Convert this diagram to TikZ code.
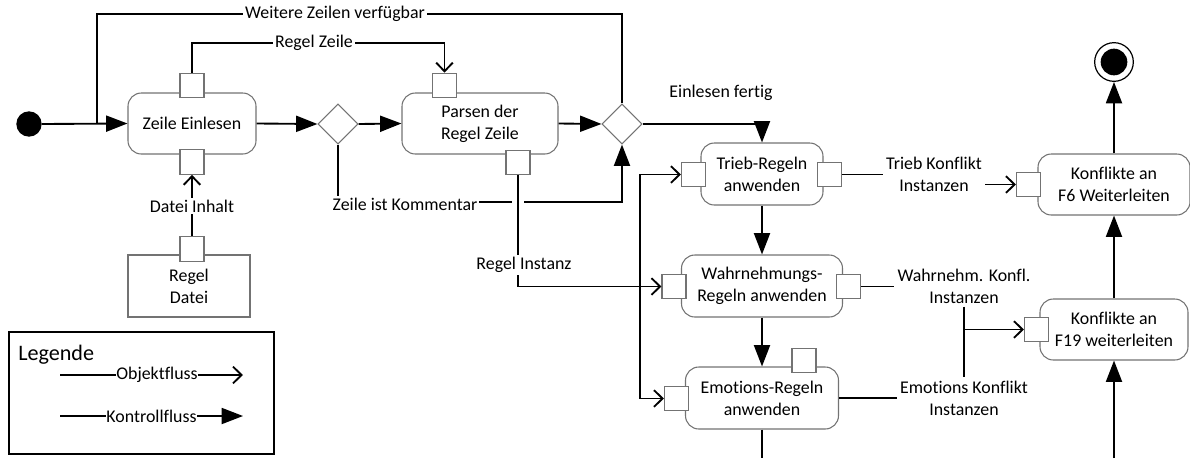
\documentclass[tikz,border=0pt]{standalone}
\usepackage{fontspec}
\setmainfont{Carlito}[Ligatures={NoCommon,NoContextual}]
\usetikzlibrary{arrows.meta,shapes.geometric,calc}
\definecolor{boxgray}{RGB}{115,115,115}
\begin{document}
\begin{tikzpicture}[x=0.75pt,y=-0.75pt,
  every node/.style={font=\fontsize{13.4}{16.3}\selectfont},
  action/.style={rectangle, rounded corners=10pt, draw=boxgray, line width=0.8pt,
    fill=white, align=center, inner sep=0pt},
  objbox/.style={rectangle, draw=boxgray, line width=0.8pt, fill=white,
    align=center, inner sep=0pt},
  pinbox/.style={rectangle, draw=boxgray, line width=0.8pt, fill=white,
    minimum width=18pt, minimum height=18.5pt, inner sep=0pt},
  gate/.style={diamond, draw=boxgray, line width=0.8pt, fill=white,
    minimum width=30pt, minimum height=30pt, inner sep=0pt},
  flow/.style={line width=1.4pt},
  ctl/.style={flow, -{Triangle[length=16pt,width=12pt]}},
  obj/.style={flow, -{Straight Barb[length=6.5pt,width=12.5pt]}},
  lbl/.style={fill=white, inner sep=1.5pt, align=center},
  tlbl/.style={inner sep=2.5pt, align=center}
]
\useasboundingbox (0,0) rectangle (1190,458);

% start and final nodes
\node[circle, fill=black, minimum size=19pt, inner sep=0pt] (start) at (29,124) {};
\node[circle, draw=black, line width=0.9pt, fill=white, minimum size=29pt, inner sep=0pt] (final) at (1114,62) {};
\node[circle, fill=black, minimum size=20pt, inner sep=0pt] (finaldot) at (1114,62) {};

% actions
\node[action, minimum width=96pt, minimum height=45.75pt] (zeile) at (192,123.5) {Zeile Einlesen};
\node[action, minimum width=117pt, minimum height=45.75pt] (parsen) at (480,123.5) {Parsen der\\Regel Zeile};
\node[action, minimum width=91.5pt, minimum height=46.5pt] (trieb) at (762,174) {Trieb-Regeln\\anwenden};
\node[action, minimum width=120.75pt, minimum height=46.5pt] (wahrn) at (762,286) {Wahrnehmungs-\\Regeln anwenden};
\node[action, minimum width=114.75pt, minimum height=46.5pt] (emot) at (762,398) {Emotions-Regeln\\anwenden};
\node[action, minimum width=114pt, minimum height=45.75pt] (fsix) at (1114,184.5) {Konflikte an\\F6 Weiterleiten};
\node[action, minimum width=111pt, minimum height=45.75pt] (fnine) at (1114,329.5) {Konflikte an\\F19 weiterleiten};
\node[objbox, minimum width=91.5pt, minimum height=46.5pt] (datei) at (189,286) {Regel\\Datei};

% decision nodes
\node[gate] (dA) at (338,124) {};
\node[gate] (dB) at (622,124) {};

% pins
\node[pinbox] (zin)  at (192,85.5) {};
\node[pinbox] (zout) at (192,162) {};
\node[pinbox] (pin)  at (444.5,85.5) {};
\node[pinbox] (pout) at (518,162.5) {};
\node[pinbox] (tin)  at (693.5,174.5) {};
\node[pinbox] (tout) at (829.5,174.5) {};
\node[pinbox] (win)  at (674,286.5) {};
\node[pinbox] (wout) at (848.5,286.5) {};
\node[pinbox] (ein)  at (676.5,398.5) {};
\node[pinbox] (etop) at (804,360.5) {};
\node[pinbox] (fsin) at (1028.5,184.5) {};
\node[pinbox] (fnin) at (1036.5,329.5) {};
\node[pinbox] (dout) at (192,249) {};

% helper coordinates
\coordinate (j0) at (97,124);
\coordinate (topy) at (0,14);
\coordinate (rzy) at (0,43);
\coordinate (kc) at (338,202);
\coordinate (fork) at (640,286);
\coordinate (embot) at (762,458);
\coordinate (fnbot) at (1114,458);

% control flow
\draw[ctl] (start.east) -- (zeile.west);
\draw[ctl] (zeile.east) -- (dA.west);
\draw[ctl] (dA.east) -- (parsen.west);
\draw[ctl] (parsen.east) -- (dB.west);
\draw[ctl] (dB.east) -| (trieb.north);
\node[tlbl] at (721,93) {Einlesen fertig};
\draw[flow] (dB.north) -- (dB.north |- topy) -- (j0 |- topy) -- (j0);
\node[lbl] at (335,14) {Weitere Zeilen verfügbar};
\draw[ctl] (dA.south) -- (kc) -| (dB.south);
\node[lbl] at (405,204) {Zeile ist Kommentar};
\draw[ctl] (trieb.south) -- (wahrn.north);
\draw[ctl] (wahrn.south) -- (emot.north);
\draw[flow] (emot.south) -- (embot);
\draw[ctl] (fnbot) -- (fnine.south);
\draw[ctl] (fnine.north) -- (fsix.south);
\draw[ctl] (fsix.north) -- (final.south);

% object flow
\draw[obj] (zin.north) -- (zin.north |- rzy) -- (pin.north |- rzy) -- (pin.north);
\node[lbl] at (314,43) {Regel Zeile};
\draw[obj] (dout.north) -- (zout.south);
\node[lbl] at (192,206) {Datei Inhalt};
% line jump where the rule instances cross the comment branch
\draw[white, line width=3pt] ([xshift=-4.5pt]pout.south |- kc) -- ([xshift=4.5pt]pout.south |- kc);
\draw[obj] (pout.south) |- (win.west);
\node[lbl] at (524,265) {Regel Instanz};
\draw[obj] (fork) |- (tin.west);
\draw[obj] (fork) |- (ein.west);

\node[tlbl] (tlab) at (934,174) {Trieb Konflikt\\Instanzen};
\draw[flow] (tout.east) -- (tout.east -| tlab.west);
\draw[obj] (tlab.east |- fsin.west) -- (fsin.west);

\node[tlbl] (wlab) at (964,286) {Wahrnehm. Konfl.\\Instanzen};
\node[tlbl] (elab) at (964,398) {Emotions Konflikt\\Instanzen};
\draw[flow] (wout.east) -- (wout.east -| wlab.west);
\draw[flow] (emot.east) -- (emot.east -| elab.west);
\draw[flow] (wlab.south) -- (elab.north);
\draw[obj] (wlab.south |- fnin.west) -- (fnin.west);

% legend
\node[draw=black, line width=1.5pt, minimum width=198.75pt, minimum height=91.5pt, inner sep=0pt] (legend) at (141.5,393) {};
\node[anchor=west, inner sep=0pt, font=\fontsize{16.6}{20}\selectfont] (legtitle) at (18,355) {Legende};
\coordinate (oa) at (60,375);
\coordinate (ob) at (243,375);
\coordinate (ka) at (60,416);
\coordinate (kb) at (243,416);
\draw[obj] (oa) -- node[lbl, pos=0.53, inner sep=0.5pt] {Objektfluss} (ob);
\draw[ctl] (ka) -- node[lbl, inner sep=0.5pt] {Kontrollfluss} (kb);
\end{tikzpicture}
\end{document}
